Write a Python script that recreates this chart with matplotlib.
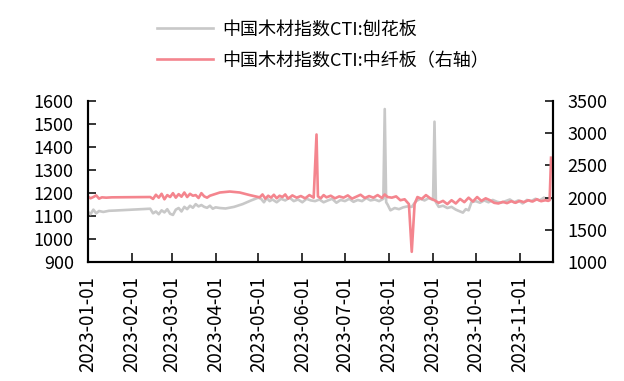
import numpy as np
import pandas as pd
import matplotlib
matplotlib.use('Agg')
import matplotlib.pyplot as plt
import matplotlib.dates as mdates

plt.rcParams['font.family'] = ['Noto Sans CJK SC', 'DejaVu Sans']

# 中国木材指数CTI:刨花板 (left axis)
pb_dates = ['2023-01-01', '2023-01-03', '2023-01-05', '2023-01-07', '2023-01-09', '2023-01-12',
            '2023-01-16', '2023-01-20', '2023-02-14', '2023-02-16', '2023-02-18', '2023-02-20',
            '2023-02-22', '2023-02-24', '2023-02-26', '2023-02-28', '2023-03-02', '2023-03-04',
            '2023-03-06', '2023-03-08', '2023-03-10', '2023-03-12', '2023-03-14', '2023-03-16',
            '2023-03-18', '2023-03-20', '2023-03-22', '2023-03-24', '2023-03-26', '2023-03-28',
            '2023-03-30', '2023-04-01', '2023-04-04', '2023-04-08', '2023-04-14', '2023-04-20',
            '2023-04-26', '2023-05-01', '2023-05-03', '2023-05-05', '2023-05-07', '2023-05-09',
            '2023-05-11', '2023-05-14', '2023-05-17', '2023-05-20', '2023-05-23', '2023-05-26',
            '2023-05-29', '2023-06-01', '2023-06-04', '2023-06-07', '2023-06-10', '2023-06-13',
            '2023-06-16', '2023-06-19', '2023-06-22', '2023-06-25', '2023-06-28', '2023-07-01',
            '2023-07-04', '2023-07-07', '2023-07-10', '2023-07-13', '2023-07-16', '2023-07-19',
            '2023-07-22', '2023-07-25', '2023-07-28', '2023-07-29', '2023-07-30', '2023-07-31',
            '2023-08-02', '2023-08-05', '2023-08-08', '2023-08-11', '2023-08-14', '2023-08-17',
            '2023-08-20', '2023-08-23', '2023-08-26', '2023-08-29', '2023-09-01', '2023-09-02',
            '2023-09-03', '2023-09-05', '2023-09-08', '2023-09-11', '2023-09-14', '2023-09-17',
            '2023-09-20', '2023-09-22', '2023-09-24', '2023-09-26', '2023-09-28', '2023-10-01',
            '2023-10-04', '2023-10-07', '2023-10-10', '2023-10-13', '2023-10-16', '2023-10-19',
            '2023-10-22', '2023-10-25', '2023-10-28', '2023-10-31', '2023-11-03', '2023-11-06',
            '2023-11-09', '2023-11-12', '2023-11-15', '2023-11-18', '2023-11-21', '2023-11-23']
pb_values = [1120, 1108, 1128, 1112, 1122, 1118,
             1123, 1124, 1132, 1112, 1120, 1108,
             1125, 1116, 1130, 1110, 1105, 1128,
             1135, 1120, 1140, 1130, 1145, 1136,
             1152, 1142, 1148, 1140, 1136, 1145,
             1132, 1138, 1135, 1133, 1140, 1152,
             1168, 1180, 1175, 1160, 1178, 1165,
             1172, 1160, 1175, 1168, 1180, 1165,
             1172, 1160, 1175, 1168, 1165, 1172,
             1160, 1168, 1175, 1158, 1170, 1165,
             1175, 1162, 1170, 1165, 1178, 1168,
             1172, 1165, 1175, 1565, 1160, 1150,
             1125, 1135, 1130, 1138, 1142, 1140,
             1165, 1175, 1168, 1178, 1170, 1510,
             1160, 1140, 1145, 1135, 1140, 1128,
             1120, 1115, 1130, 1125, 1160, 1165,
             1158, 1168, 1160, 1170, 1162, 1158,
             1165, 1172, 1160, 1168, 1155, 1170,
             1165, 1175, 1168, 1180, 1172, 1175]

# 中国木材指数CTI:中纤板 (right axis)
mdf_dates = ['2023-01-01', '2023-01-03', '2023-01-05', '2023-01-07', '2023-01-09', '2023-01-11',
             '2023-01-14', '2023-01-18', '2023-02-14', '2023-02-16', '2023-02-18', '2023-02-20',
             '2023-02-22', '2023-02-24', '2023-02-26', '2023-02-28', '2023-03-02', '2023-03-04',
             '2023-03-06', '2023-03-08', '2023-03-10', '2023-03-12', '2023-03-14', '2023-03-16',
             '2023-03-18', '2023-03-20', '2023-03-22', '2023-03-24', '2023-03-26', '2023-03-28',
             '2023-04-04', '2023-04-11', '2023-04-18', '2023-04-25', '2023-05-02', '2023-05-04',
             '2023-05-06', '2023-05-08', '2023-05-10', '2023-05-12', '2023-05-14', '2023-05-16',
             '2023-05-18', '2023-05-20', '2023-05-22', '2023-05-25', '2023-05-28', '2023-05-31',
             '2023-06-03', '2023-06-06', '2023-06-09', '2023-06-11', '2023-06-12', '2023-06-14',
             '2023-06-16', '2023-06-18', '2023-06-21', '2023-06-24', '2023-06-27', '2023-06-30',
             '2023-07-03', '2023-07-06', '2023-07-09', '2023-07-12', '2023-07-15', '2023-07-18',
             '2023-07-21', '2023-07-24', '2023-07-27', '2023-07-29', '2023-07-31', '2023-08-03',
             '2023-08-06', '2023-08-09', '2023-08-12', '2023-08-15', '2023-08-17', '2023-08-19',
             '2023-08-21', '2023-08-24', '2023-08-27', '2023-08-30', '2023-09-02', '2023-09-05',
             '2023-09-08', '2023-09-11', '2023-09-14', '2023-09-17', '2023-09-20', '2023-09-23',
             '2023-09-26', '2023-09-29', '2023-10-02', '2023-10-05', '2023-10-08', '2023-10-11',
             '2023-10-14', '2023-10-17', '2023-10-20', '2023-10-23', '2023-10-26', '2023-10-29',
             '2023-11-01', '2023-11-04', '2023-11-07', '2023-11-10', '2023-11-13', '2023-11-16',
             '2023-11-19', '2023-11-21', '2023-11-22', '2023-11-23']
mdf_values = [2020, 1990, 2010, 2035, 1985, 2005,
              2000, 2005, 2010, 1980, 2045, 2000,
              2060, 1975, 2040, 2010, 2070, 2000,
              2055, 2015, 2080, 2010, 2060, 2030,
              2040, 1995, 2070, 2020, 2000, 2030,
              2080, 2095, 2080, 2040, 2005, 2050,
              1985, 2030, 2000, 2045, 1990, 2030,
              2010, 2050, 1985, 2035, 2000, 2025,
              1990, 2040, 2000, 2980, 2020, 1990,
              2040, 2005, 2030, 1990, 2020, 2000,
              2035, 1985, 2015, 2045, 1995, 2025,
              2000, 2040, 1995, 2050, 2010, 2000,
              2020, 1960, 1975, 1900, 1160, 1900,
              2010, 1980, 2040, 1990, 1960, 1920,
              1950, 1900, 1960, 1910, 1980, 1930,
              2000, 1940, 2010, 1950, 1990, 1960,
              1920, 1910, 1935, 1915, 1945, 1920,
              1950, 1930, 1960, 1940, 1975, 1945,
              1960, 1950, 1960, 2620]

left_ticks = [900, 1000, 1100, 1200, 1300, 1400, 1500, 1600]
right_ticks = [1000, 1500, 2000, 2500, 3000, 3500]
month_ticks = pd.date_range('2023-01-01', '2023-11-01', freq='MS')

pb_x = pd.to_datetime(pb_dates)
mdf_x = pd.to_datetime(mdf_dates)

fig = plt.figure(figsize=(6.24, 3.81), dpi=100)
ax = fig.add_axes([0.1405, 0.312, 0.746, 0.423])
ax2 = ax.twinx()

l1, = ax.plot(pb_x, pb_values, color='#c8c8c8', lw=1.9, label='中国木材指数CTI:刨花板')
l2, = ax2.plot(mdf_x, mdf_values, color='#f4858e', lw=1.9, label='中国木材指数CTI:中纤板（右轴）')

ax.set_ylim(900, 1600)
ax2.set_ylim(1000, 3500)
ax.set_yticks(left_ticks)
ax2.set_yticks(right_ticks)
ax.set_xlim(pd.Timestamp('2023-01-01'), pd.Timestamp('2023-11-24 12:00'))
ax.set_xticks(month_ticks)
ax.xaxis.set_major_formatter(mdates.DateFormatter('%Y-%m-%d'))
for lab in ax.get_xticklabels():
    lab.set_rotation(90)
    lab.set_fontsize(13.5)

for a in (ax, ax2):
    a.spines['top'].set_visible(False)
    for s in ('left', 'right', 'bottom'):
        a.spines[s].set_linewidth(1.5)
        a.spines[s].set_color('black')
    a.tick_params(direction='in', length=6, width=1.1, labelsize=13, pad=10)
ax.tick_params(axis='x', length=6.5, pad=10, labelsize=13.5)

fig.legend(handles=[l1, l2], loc='upper left', bbox_to_anchor=(0.232, 0.98),
           frameon=False, fontsize=13, handlelength=3.1, handletextpad=0.5,
           labelspacing=0.75, borderaxespad=0.3)

fig.savefig('out.png', dpi=100)
